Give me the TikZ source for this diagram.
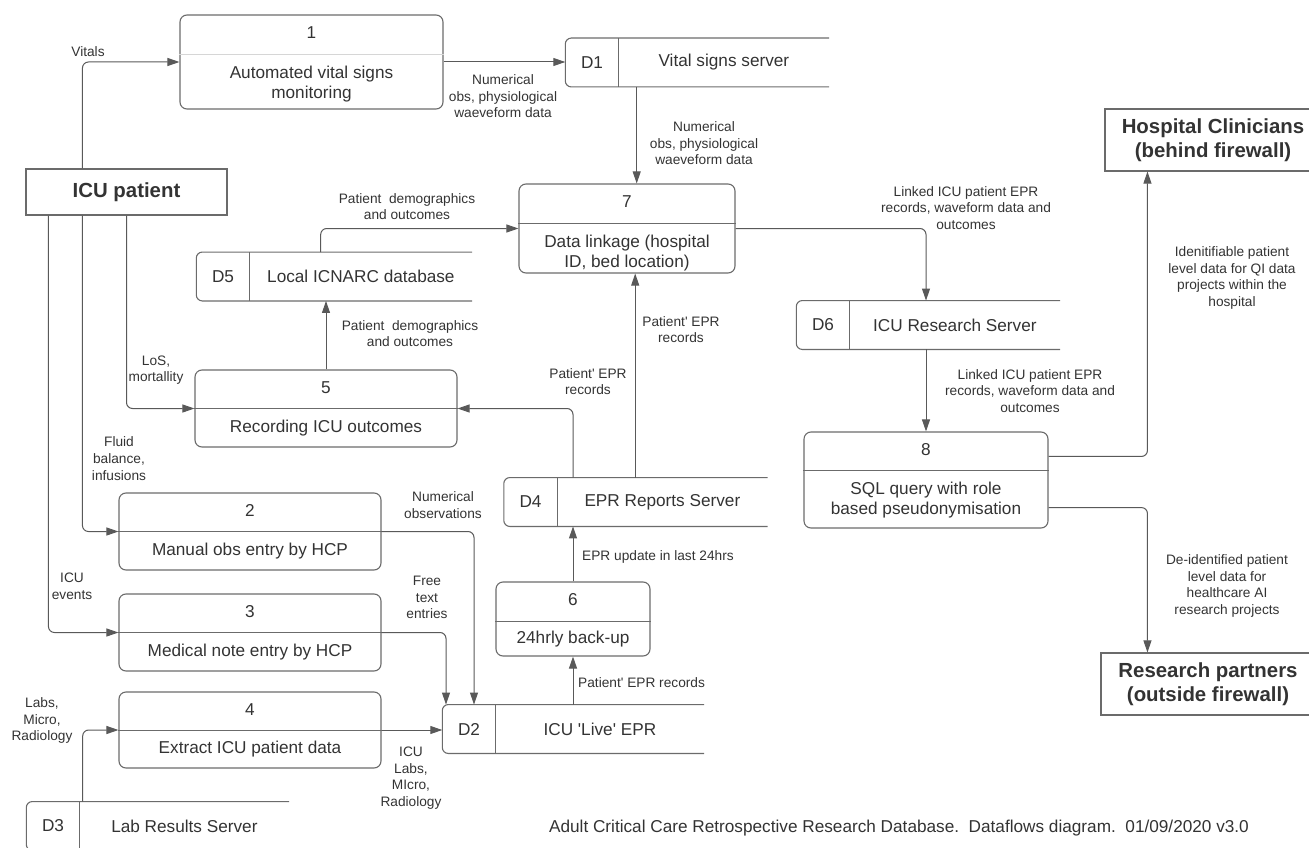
\documentclass[tikz,border=0pt]{standalone}
\usepackage{fontspec}
\setmainfont{Liberation Sans}
\usetikzlibrary{positioning, arrows.meta}

\definecolor{inkgray}{HTML}{333333}
\definecolor{linegray}{HTML}{595959}
\definecolor{boxgray}{HTML}{6B6B6B}
\definecolor{palegray}{HTML}{D6D6D6}

\begin{document}
\begin{tikzpicture}[x=1pt, y=-1pt, text=inkgray]
	\tikzstyle{process} = [rectangle, rounded corners=7pt, draw=boxgray, 
	line width=1.1pt]
	\tikzstyle{procnum} = [inner sep=0pt, font=\fontsize{17.2}{20}\selectfont]
	\tikzstyle{proctext} = [align=center, inner sep=0pt, 
	font=\fontsize{17.2}{20}\selectfont]
	\tikzstyle{storeid} = [minimum width=53pt, minimum height=48.5pt, 
	inner sep=0pt, font=\fontsize{17.2}{20}\selectfont]
	\tikzstyle{storename} = [minimum width=210pt, minimum height=48.5pt, 
	inner sep=0pt, font=\fontsize{17.2}{20}\selectfont]
	\tikzstyle{storeline} = [draw=boxgray, line width=1.1pt, rounded corners=6pt]
	\tikzstyle{divider} = [draw=boxgray, line width=1.1pt]
	\tikzstyle{entity} = [rectangle, draw=boxgray, line width=1.1pt, 
	align=center, inner sep=0pt, font=\bfseries\fontsize{20.4}{24}\selectfont]
	\tikzstyle{flowlabel} = [align=center, inner sep=0pt, 
	font=\fontsize{13.7}{16.6}\selectfont]
	\tikzstyle{arrow} = [draw=linegray, line width=1pt, rounded corners=6pt, 
	-{Triangle[length=12pt, width=8pt]}]
	\useasboundingbox (0,0) rectangle (1309,848);
	% external entities
	\node (icu) [entity, minimum width=201, minimum height=46] at (126.5,192) {ICU patient};
	\node (hosp) [entity, minimum width=216, minimum height=62] at (1213,140) {Hospital Clinicians\\(behind firewall)};
	\node (research) [entity, minimum width=214, minimum height=62] at (1208,684) {Research partners\\(outside firewall)};
	% processes
	\node (p1) [process, minimum width=263, minimum height=94] at (311.5,62) {};
	\node (p1num) [procnum] at ([yshift=-18]p1.north) {1};
	\node (p1txt) [proctext] at ([yshift=-70]p1.north) {Automated vital signs\\monitoring};
	\draw [divider, draw=palegray] ([yshift=-40]p1.north west) -- ([yshift=-40]p1.north east);
	\node (p7) [process, minimum width=216, minimum height=89] at (627,228.5) {};
	\node (p7num) [procnum] at ([yshift=-18]p7.north) {7};
	\node (p7txt) [proctext] at ([yshift=-70]p7.north) {Data linkage (hospital\\ID, bed location)};
	\draw [divider] ([yshift=-40]p7.north west) -- ([yshift=-40]p7.north east);
	\node (p5) [process, minimum width=262, minimum height=77] at (326,408.5) {};
	\node (p5num) [procnum] at ([yshift=-18]p5.north) {5};
	\node (p5txt) [proctext] at ([yshift=-58.5]p5.north) {Recording ICU outcomes};
	\draw [divider] ([yshift=-39]p5.north west) -- ([yshift=-39]p5.north east);
	\node (p2) [process, minimum width=262, minimum height=77] at (250,531.5) {};
	\node (p2num) [procnum] at ([yshift=-18]p2.north) {2};
	\node (p2txt) [proctext] at ([yshift=-58.5]p2.north) {Manual obs entry by HCP};
	\draw [divider] ([yshift=-39]p2.north west) -- ([yshift=-39]p2.north east);
	\node (p3) [process, minimum width=262, minimum height=77] at (250,632.5) {};
	\node (p3num) [procnum] at ([yshift=-18]p3.north) {3};
	\node (p3txt) [proctext] at ([yshift=-58.5]p3.north) {Medical note entry by HCP};
	\draw [divider] ([yshift=-39]p3.north west) -- ([yshift=-39]p3.north east);
	\node (p4) [process, minimum width=262, minimum height=76] at (250,730) {};
	\node (p4num) [procnum] at ([yshift=-18]p4.north) {4};
	\node (p4txt) [proctext] at ([yshift=-57.5]p4.north) {Extract ICU patient data};
	\draw [divider] ([yshift=-39]p4.north west) -- ([yshift=-39]p4.north east);
	\node (p6) [process, minimum width=154, minimum height=74] at (573,619) {};
	\node (p6num) [procnum] at ([yshift=-18]p6.north) {6};
	\node (p6txt) [proctext] at ([yshift=-58]p6.north) {24hrly back-up};
	\draw [divider] ([yshift=-40]p6.north west) -- ([yshift=-40]p6.north east);
	\node (p8) [process, minimum width=244, minimum height=96] at (926,480) {};
	\node (p8num) [procnum] at ([yshift=-18]p8.north) {8};
	\node (p8txt) [proctext] at ([yshift=-68.5]p8.north) {SQL query with role\\based pseudonymisation};
	\draw [divider] ([yshift=-39]p8.north west) -- ([yshift=-39]p8.north east);
	% data stores
	\node (d1) [storeid] at (592,62.5) {D1};
	\node (d1name) [storename, right=0pt of d1] {Vital signs server};
	\draw [storeline] (d1name.north east) -- (d1.north west) -- (d1.south west) -- (d1name.south east);
	\draw [divider] (d1.north east) -- (d1.south east);
	\node (d5) [storeid] at (223,276.5) {D5};
	\node (d5name) [storename, right=0pt of d5, minimum width=222] {Local ICNARC database};
	\draw [storeline] (d5name.north east) -- (d5.north west) -- (d5.south west) -- (d5name.south east);
	\draw [divider] (d5.north east) -- (d5.south east);
	\node (d6) [storeid] at (823,325) {D6};
	\node (d6name) [storename, right=0pt of d6] {ICU Research Server};
	\draw [storeline] (d6name.north east) -- (d6.north west) -- (d6.south west) -- (d6name.south east);
	\draw [divider] (d6.north east) -- (d6.south east);
	\node (d4) [storeid] at (530.5,502) {D4};
	\node (d4name) [storename, right=0pt of d4] {EPR Reports Server};
	\draw [storeline] (d4name.north east) -- (d4.north west) -- (d4.south west) -- (d4name.south east);
	\draw [divider] (d4.north east) -- (d4.south east);
	\node (d2) [storeid] at (469,729) {D2};
	\node (d2name) [storename, right=0pt of d2, minimum width=208] {ICU \textquotesingle Live\textquotesingle\ EPR};
	\draw [storeline] (d2name.north east) -- (d2.north west) -- (d2.south west) -- (d2name.south east);
	\draw [divider] (d2.north east) -- (d2.south east);
	\node (d3) [storeid] at (53,826) {D3};
	\node (d3name) [storename, right=0pt of d3, minimum width=209] {Lab Results Server};
	\draw [storeline] (d3name.north east) -- (d3.north west) -- (d3.south west) -- (d3name.south east);
	\draw [divider] (d3.north east) -- (d3.south east);
	% flows
	\draw [arrow] ([xshift=57]icu.north west) |- (p1.west);
	\draw [arrow] (p1.east) -- (p1.east -| d1.west);
	\draw [arrow] ([xshift=18]d1name.south west) -- ([xshift=18]d1name.south west |- p7.north);
	\draw [arrow] ([xshift=71]d5name.north west) |- (p7.west);
	\draw [arrow] (p5.north) -- (p5.north |- d5name.south);
	\draw [arrow] (icu.south) |- (p5.west);
	\draw [arrow] ([xshift=57]icu.south west) |- (p2.west);
	\draw [arrow] ([xshift=23]icu.south west) |- (p3.west);
	\draw [arrow] (p2.east) -| ([xshift=5]d2.north);
	\draw [arrow] (p3.east) -| ([xshift=-23]d2.north);
	\draw [arrow] ([xshift=3]d3name.north west) |- (p4.west);
	\draw [arrow] (p4.east) -- (p4.east -| d2.west);
	\draw [arrow] (d2name.north -| p6.south) -- (p6.south);
	\draw [arrow] (p6.north) -- (p6.north |- d4name.south);
	\draw [arrow] (p6.north |- d4name.north) |- (p5.east);
	\draw [arrow] ([xshift=78]d4name.north west) -- ([xshift=78]d4name.north west |- p7.south);
	\draw [arrow] (p7.east) -| (p8.north |- d6name.north);
	\draw [arrow] (p8.north |- d6name.south) -- (p8.north);
	\draw [arrow] ([yshift=-25]p8.north east) -| ([xshift=43]hosp.south west);
	\draw [arrow] ([yshift=21]p8.south east) -| ([xshift=47]research.north west);
	% flow labels
	\node (lvitals) [flowlabel] at (88,52) {Vitals};
	\node (lvitalsout) [flowlabel] at (503,96.5) {Numerical\\obs, physiological\\waeveform data};
	\node (lvitalslink) [flowlabel] at (704,143.5) {Numerical\\obs, physiological\\waeveform data};
	\node (ldemolink) [flowlabel] at (407,206.5) {Patient\ \ demographics\\and outcomes};
	\node (ldemostore) [flowlabel] at (410,333.5) {Patient\ \ demographics\\and outcomes};
	\node (llos) [flowlabel] at (156,370) {LoS,\\mortallity};
	\node (lfluid) [flowlabel] at (119,458.5) {Fluid\\balance,\\infusions};
	\node (levents) [flowlabel] at (72,586) {ICU\\events};
	\node (lobs) [flowlabel] at (443,505) {Numerical\\observations};
	\node (lfree) [flowlabel] at (427,597.5) {Free\\text\\entries};
	\node (llabs) [flowlabel] at (42,720.5) {Labs,\\Micro,\\Radiology};
	\node (licu) [flowlabel] at (411,778) {ICU\\Labs,\\MIcro,\\Radiology};
	\node (lbackup) [flowlabel, anchor=west] at (578,683) {Patient\textquotesingle\ EPR records};
	\node (lupdate) [flowlabel, anchor=west] at (582,557) {EPR update in last 24hrs};
	\node (leprout) [flowlabel] at (588,381.5) {Patient\textquotesingle\ EPR\\records};
	\node (lepr) [flowlabel] at (681,329.5) {Patient\textquotesingle\ EPR\\records};
	\node (llinked) [flowlabel] at (966,208) {Linked ICU patient EPR\\records, waveform data and\\outcomes};
	\node (llinkedsql) [flowlabel] at (1030,391) {Linked ICU patient EPR\\records, waveform data and\\outcomes};
	\node (lqi) [flowlabel] at (1232,278) {Idenitifiable patient\\level data for QI data\\projects within the\\hospital};
	\node (lai) [flowlabel] at (1227,586) {De-identified patient\\level data for\\healthcare AI\\research projects};
	\node (footer) [procnum] at (899,828) {Adult Critical Care Retrospective Research Database.\ \ Dataflows diagram.\ \ 01/09/2020 v3.0};
\end{tikzpicture}
\end{document}
